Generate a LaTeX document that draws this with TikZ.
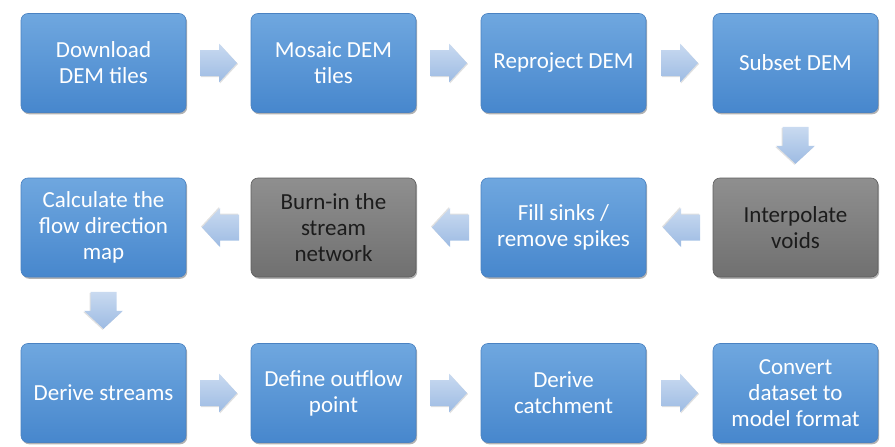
\documentclass[tikz,border=0pt]{standalone}
\usepackage{fontspec}
\setmainfont{Carlito}
\usetikzlibrary{shadows,calc}
\definecolor{blueTop}{HTML}{6FA7DF}
\definecolor{blueBot}{HTML}{4787CD}
\definecolor{blueEdge}{HTML}{4A82C2}
\definecolor{grayTop}{HTML}{8F8F8F}
\definecolor{grayBot}{HTML}{707070}
\definecolor{grayEdge}{HTML}{5E5E5E}
\definecolor{arrTop}{HTML}{C9DAF0}
\definecolor{arrBot}{HTML}{9DBBE3}
\definecolor{darkText}{HTML}{1C1C1C}
\tikzset{
  basebox/.style={rounded corners=7pt, minimum width=165pt, minimum height=99pt,
    align=center, inner sep=2pt, font=\fontsize{23}{26}\selectfont,
    drop shadow={shadow xshift=1.2pt, shadow yshift=-1.8pt, opacity=0.3, fill=black}},
  bluebox/.style={basebox, top color=blueTop, bottom color=blueBot, draw=blueEdge, line width=0.6pt, text=white},
  graybox/.style={basebox, top color=grayTop, bottom color=grayBot, draw=grayEdge, line width=0.6pt, text=darkText},
  pics/blockarrow/.style={code={
    \fill[black,opacity=0.12] (-17.5,-12) -- (1.5,-12) -- (1.5,-18.5) -- (19.5,1) -- (1.5,20.5) -- (1.5,14) -- (-17.5,14) -- cycle;
    \shade[top color=arrTop,bottom color=arrBot] (-18.5,-13) -- (0.5,-13) -- (0.5,-19.5) -- (18.5,0) -- (0.5,19.5) -- (0.5,13) -- (-18.5,13) -- cycle;
  }},
}
\begin{document}
\begin{tikzpicture}[x=1pt,y=-1pt]
\useasboundingbox (0,0) rectangle (895,447);
% row 1
\node[bluebox] (b1) at (103.5,63) {Download\\DEM tiles};
\node[bluebox] (b2) at (333.5,63) {Mosaic DEM\\tiles};
\node[bluebox] (b3) at (563.5,63) {Reproject DEM};
\node[bluebox] (b4) at (795.5,63) {Subset DEM};
% row 2
\node[graybox] (b5) at (795.5,227.5) {Interpolate\\voids};
\node[bluebox] (b6) at (563.5,227.5) {Fill sinks /\\remove spikes};
\node[graybox] (b7) at (333.5,227.5) {Burn-in the\\stream\\network};
\node[bluebox] (b8) at (103.5,227.5) {Calculate the\\flow direction\\map};
% row 3
\node[bluebox] (b9) at (103.5,393) {Derive streams};
\node[bluebox] (b10) at (333.5,393) {Define outflow\\point};
\node[bluebox] (b11) at (563.5,393) {Derive\\catchment};
\node[bluebox] (b12) at (795.5,393) {Convert\\dataset to\\model format};
% arrows
\coordinate (a1) at ($(b1.east)!0.5!(b2.west)$);
\coordinate (a2) at ($(b2.east)!0.5!(b3.west)$);
\coordinate (a3) at ($(b3.east)!0.5!(b4.west)$);
\coordinate (a4) at ($(b4.south)!0.5!(b5.north)$);
\coordinate (a5) at ($(b5.west)!0.5!(b6.east)+(2,0)$);
\coordinate (a6) at ($(b6.west)!0.5!(b7.east)+(2,0)$);
\coordinate (a7) at ($(b7.west)!0.5!(b8.east)+(2,0)$);
\coordinate (a8) at ($(b8.south)!0.5!(b9.north)$);
\coordinate (a9) at ($(b9.east)!0.5!(b10.west)$);
\coordinate (a10) at ($(b10.east)!0.5!(b11.west)$);
\coordinate (a11) at ($(b11.east)!0.5!(b12.west)$);
\pic at (a1) {blockarrow};
\pic at (a2) {blockarrow};
\pic at (a3) {blockarrow};
\pic[rotate=-90] at (a4) {blockarrow};
\pic[rotate=180] at (a5) {blockarrow};
\pic[rotate=180] at (a6) {blockarrow};
\pic[rotate=180] at (a7) {blockarrow};
\pic[rotate=-90] at (a8) {blockarrow};
\pic at (a9) {blockarrow};
\pic at (a10) {blockarrow};
\pic at (a11) {blockarrow};
\end{tikzpicture}
\end{document}
